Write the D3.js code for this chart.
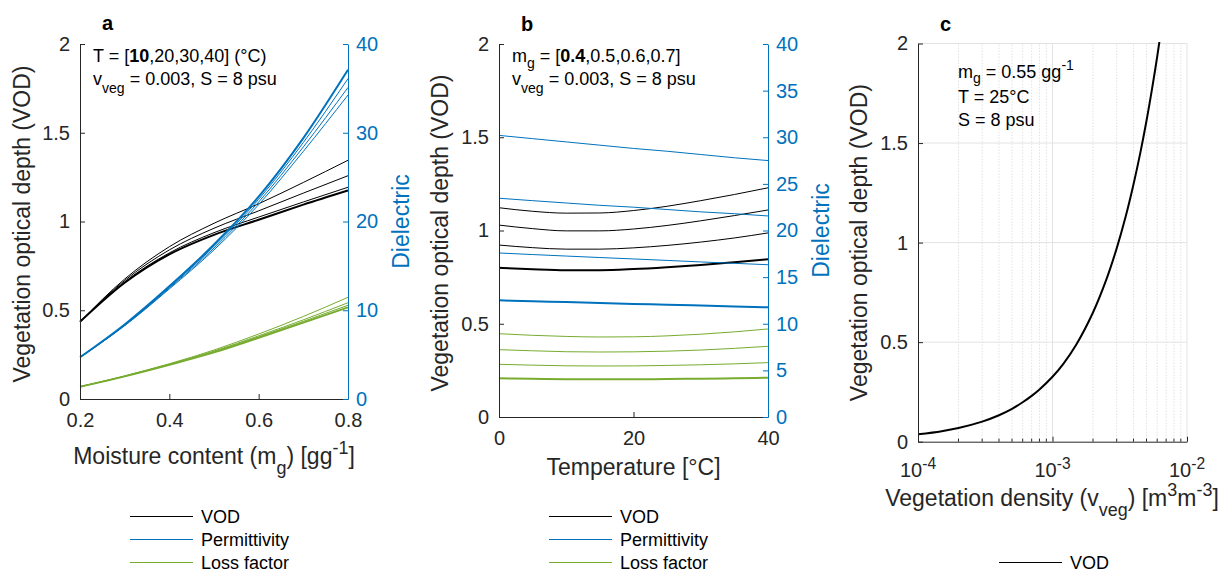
<!DOCTYPE html>
<html><head><meta charset="utf-8">
<script src="https://cdn.jsdelivr.net/npm/d3@7"></script>
<style>
body{margin:0;background:#fff;}
svg{display:block;font-family:"Liberation Sans",Arial,Helvetica,sans-serif;}
</style></head><body>
<svg id="chart" width="1225" height="572"></svg>
<script>
// ================= DATA =================
// Panel a: x = moisture content m_g, curves for T = 10,20,30,40 °C
const moistureA = [0.2, 0.3, 0.4, 0.5, 0.6, 0.7, 0.8];
const tempSeriesA = ["10", "20", "30", "40"];
const vodA_T10 = [0.435, 0.655, 0.815, 0.925, 1.010, 1.095, 1.175];
const vodA_T20 = [0.435, 0.660, 0.823, 0.937, 1.025, 1.110, 1.193];
const vodA_T30 = [0.435, 0.668, 0.840, 0.962, 1.060, 1.160, 1.258];
const vodA_T40 = [0.435, 0.676, 0.858, 0.990, 1.100, 1.220, 1.345];
const permA_T10 = [4.7, 8.40, 12.7, 17.4, 22.8, 29.4, 37.10];
const permA_T20 = [4.7, 8.35, 12.6, 17.2, 22.5, 28.9, 36.10];
const permA_T30 = [4.7, 8.30, 12.5, 17.0, 22.2, 28.4, 35.10];
const permA_T40 = [4.7, 8.25, 12.4, 16.8, 21.9, 27.9, 34.25];
const lossA_T10 = [1.39, 2.55, 3.85, 5.25, 6.90, 8.60, 10.33];
const lossA_T20 = [1.39, 2.56, 3.88, 5.32, 7.00, 8.75, 10.56];
const lossA_T30 = [1.39, 2.57, 3.91, 5.40, 7.12, 8.92, 10.85];
const lossA_T40 = [1.39, 2.60, 3.97, 5.52, 7.32, 9.30, 11.46];

// Panel b: x = temperature, curves for m_g = 0.4,0.5,0.6,0.7
const temperatureB = [0, 5, 10, 15, 20, 25, 30, 35, 40];
const moistSeriesB = ["0.4", "0.5", "0.6", "0.7"];
const vodB_m04 = [0.800, 0.792, 0.787, 0.787, 0.793, 0.803, 0.815, 0.830, 0.846];
const vodB_m05 = [0.922, 0.908, 0.900, 0.900, 0.907, 0.920, 0.938, 0.960, 0.987];
const vodB_m06 = [1.029, 1.010, 0.998, 0.998, 1.008, 1.027, 1.052, 1.080, 1.110];
const vodB_m07 = [1.122, 1.103, 1.093, 1.094, 1.107, 1.130, 1.160, 1.193, 1.229];
const permB_m04 = [12.51, 12.41, 12.32, 12.22, 12.13, 12.04, 11.95, 11.85, 11.76];
const permB_m05 = [17.59, 17.42, 17.26, 17.10, 16.95, 16.79, 16.63, 16.48, 16.33];
const permB_m06 = [23.46, 23.20, 22.95, 22.70, 22.50, 22.25, 22.00, 21.80, 21.56];
const permB_m07 = [30.20, 29.85, 29.50, 29.15, 28.80, 28.50, 28.15, 27.80, 27.50];
const lossB_m04 = [4.15, 4.09, 4.05, 4.04, 4.05, 4.07, 4.11, 4.15, 4.21];
const lossB_m05 = [5.65, 5.56, 5.49, 5.47, 5.48, 5.53, 5.60, 5.70, 5.83];
const lossB_m06 = [7.22, 7.10, 7.00, 6.97, 6.99, 7.06, 7.18, 7.36, 7.58];
const lossB_m07 = [8.93, 8.76, 8.64, 8.58, 8.60, 8.70, 8.88, 9.13, 9.44];

// Panel c: x = vegetation density (log), VOD
const vegDensityC = [1e-4, 1.5e-4, 2e-4, 3e-4, 4e-4, 5e-4, 6e-4, 7e-4, 8e-4, 1e-3, 1.2e-3, 1.5e-3, 2e-3, 2.5e-3, 3e-3, 3.5e-3, 4e-3, 4.5e-3, 5e-3, 5.5e-3, 6e-3, 6.5e-3];
const vodC = [0.037, 0.053, 0.069, 0.101, 0.133, 0.165, 0.198, 0.230, 0.262, 0.326, 0.390, 0.487, 0.649, 0.810, 0.971, 1.131, 1.292, 1.452, 1.612, 1.773, 1.933, 2.094];

// Ticks
const vodTicks = [0, 0.5, 1, 1.5, 2];
const dielTicksA = [0, 10, 20, 30, 40];
const dielTicksB = [0, 5, 10, 15, 20, 25, 30, 35, 40];
const moistTicksA = [0.2, 0.4, 0.6, 0.8];
const tempTicksB = [0, 20, 40];
const vegTicksC = [1e-4, 1e-3, 1e-2];
const vegTickExpC = ["-4", "-3", "-2"];
const legendLabels = ["VOD", "Permittivity", "Loss factor"];

// ================= STYLE =================
const C_VOD = "#000000", C_PERM = "#0072BD", C_LOSS = "#77AC30", C_AX = "#262626";
const TICK_FS = 20, LABEL_FS = 23, ANN_FS = 18, LEG_FS = 18;

const svg = d3.select("#chart");

// rich text helper (sub/sup/bold parts)
function rich(sel, parts, fs, subK) {
  const k = subK || 0.42;
  let shift = 0;
  parts.forEach(p => {
    const ts = sel.append("tspan").text(p.t);
    const target = p.sub ? fs * k : (p.sup ? -fs * 0.42 : 0);
    if (target !== shift) { ts.attr("dy", target - shift); shift = target; }
    if (p.sub || p.sup) ts.attr("font-size", fs * 0.78);
    if (p.bold) ts.attr("font-weight", "bold");
  });
  return sel;
}

function styleAxis(g, color, fs) {
  g.attr("font-family", null).attr("font-size", null);
  g.selectAll("path.domain").attr("stroke", color).attr("stroke-width", 1);
  g.selectAll(".tick line").attr("stroke", color).attr("stroke-width", 1);
  g.selectAll(".tick text").attr("fill", color).style("font-size", fs + "px");
}

function drawLines(g, xs, series, x, y, color, widths) {
  const gen = d3.line().x((d, i) => x(xs[i])).y(d => y(d)).curve(d3.curveMonotoneX);
  series.forEach((s, i) => {
    g.append("path").attr("d", gen(s)).attr("fill", "none")
      .attr("stroke", color).attr("stroke-width", widths[i]).attr("stroke-linejoin", "round");
  });
}

function legend(g, x, y, items) {
  items.forEach((it, i) => {
    const yy = y + i * 23;
    g.append("line").attr("x1", x).attr("x2", x + 63).attr("y1", yy).attr("y2", yy)
      .attr("stroke", it.color).attr("stroke-width", 1);
    g.append("text").attr("x", x + 71).attr("y", yy + 6.5).attr("fill", "#000")
      .style("font-size", LEG_FS + "px").text(it.label);
  });
}

function rotLabel(g, x, y, parts, color, fs) {
  const t = g.append("text").attr("transform", `translate(${x},${y}) rotate(-90)`)
    .attr("text-anchor", "middle").attr("fill", color).style("font-size", fs + "px");
  rich(t, parts, fs);
}

const thinBold = [2, 1, 1, 1];

// ================= PANEL A =================
(function () {
  const g = svg.append("g");
  const x = d3.scaleLinear().domain([0.2, 0.8]).range([80, 348]);
  const y = d3.scaleLinear().domain([0, 2]).range([399, 44]);
  const y2 = d3.scaleLinear().domain([0, 40]).range([399, 44]);

  drawLines(g, moistureA, [vodA_T10, vodA_T20, vodA_T30, vodA_T40], x, y, C_VOD, thinBold);
  drawLines(g, moistureA, [permA_T10, permA_T20, permA_T30, permA_T40], x, y2, C_PERM, thinBold);
  drawLines(g, moistureA, [lossA_T10, lossA_T20, lossA_T30, lossA_T40], x, y2, C_LOSS, thinBold);

  const gx = g.append("g").attr("transform", "translate(0,399)")
    .call(d3.axisBottom(x).tickValues(moistTicksA).tickFormat(d => String(d)).tickSize(-5).tickSizeOuter(0).tickPadding(14));
  styleAxis(gx, C_AX, TICK_FS);
  const gy = g.append("g").attr("transform", "translate(80,0)")
    .call(d3.axisLeft(y).tickValues(vodTicks).tickFormat(d => String(d)).tickSize(-5).tickSizeOuter(0).tickPadding(10));
  styleAxis(gy, C_AX, TICK_FS);
  const gy2 = g.append("g").attr("transform", "translate(348,0)")
    .call(d3.axisRight(y2).tickValues(dielTicksA).tickFormat(d => String(d)).tickSize(-5).tickSizeOuter(0).tickPadding(8));
  styleAxis(gy2, C_PERM, TICK_FS);

  g.append("text").attr("x", 102).attr("y", 30).style("font-size", "20px").attr("font-weight", "bold").text("a");

  rich(g.append("text").attr("x", 93).attr("y", 62).style("font-size", ANN_FS + "px").attr("fill", "#000"),
    [{t: "T = ["}, {t: tempSeriesA[0], bold: true}, {t: "," + tempSeriesA.slice(1).join(",") + "] (°C)"}], ANN_FS);
  rich(g.append("text").attr("x", 93).attr("y", 85).style("font-size", ANN_FS + "px").attr("fill", "#000"),
    [{t: "v"}, {t: "veg", sub: true}, {t: " = 0.003, S = 8 psu"}], ANN_FS);

  const tl = g.append("text").attr("x", 214).attr("y", 464).attr("text-anchor", "middle")
    .attr("fill", C_AX).style("font-size", LABEL_FS + "px");
  rich(tl, [{t: "Moisture content (m"}, {t: "g", sub: true}, {t: ") [gg"}, {t: "-1", sup: true}, {t: "]"}], LABEL_FS);
  rotLabel(g, 30, 224, [{t: "Vegetation optical depth (VOD)"}], C_AX, LABEL_FS);
  rotLabel(g, 409, 221.5, [{t: "Dielectric"}], C_PERM, LABEL_FS);

  legend(g, 130, 516.5, [{label: legendLabels[0], color: C_VOD}, {label: legendLabels[1], color: C_PERM}, {label: legendLabels[2], color: C_LOSS}]);
})();

// ================= PANEL B =================
(function () {
  const g = svg.append("g");
  const x = d3.scaleLinear().domain([0, 40]).range([499, 768]);
  const y = d3.scaleLinear().domain([0, 2]).range([417, 44]);
  const y2 = d3.scaleLinear().domain([0, 40]).range([417, 44]);

  drawLines(g, temperatureB, [vodB_m04, vodB_m05, vodB_m06, vodB_m07], x, y, C_VOD, thinBold);
  drawLines(g, temperatureB, [permB_m04, permB_m05, permB_m06, permB_m07], x, y2, C_PERM, thinBold);
  drawLines(g, temperatureB, [lossB_m04, lossB_m05, lossB_m06, lossB_m07], x, y2, C_LOSS, thinBold);

  const gx = g.append("g").attr("transform", "translate(0,417)")
    .call(d3.axisBottom(x).tickValues(tempTicksB).tickFormat(d => String(d)).tickSize(-5).tickSizeOuter(0).tickPadding(14));
  styleAxis(gx, C_AX, TICK_FS);
  const gy = g.append("g").attr("transform", "translate(499,0)")
    .call(d3.axisLeft(y).tickValues(vodTicks).tickFormat(d => String(d)).tickSize(-5).tickSizeOuter(0).tickPadding(10));
  styleAxis(gy, C_AX, TICK_FS);
  const gy2 = g.append("g").attr("transform", "translate(768,0)")
    .call(d3.axisRight(y2).tickValues(dielTicksB).tickFormat(d => String(d)).tickSize(-5).tickSizeOuter(0).tickPadding(8));
  styleAxis(gy2, C_PERM, TICK_FS);

  g.append("text").attr("x", 521).attr("y", 31).style("font-size", "20px").attr("font-weight", "bold").text("b");

  rich(g.append("text").attr("x", 512).attr("y", 62).style("font-size", ANN_FS + "px").attr("fill", "#000"),
    [{t: "m"}, {t: "g", sub: true}, {t: " = ["}, {t: moistSeriesB[0], bold: true}, {t: "," + moistSeriesB.slice(1).join(",") + "]"}], ANN_FS, 0.36);
  rich(g.append("text").attr("x", 512).attr("y", 85).style("font-size", ANN_FS + "px").attr("fill", "#000"),
    [{t: "v"}, {t: "veg", sub: true}, {t: " = 0.003, S = 8 psu"}], ANN_FS);

  g.append("text").attr("x", 633.5).attr("y", 475).attr("text-anchor", "middle")
    .attr("fill", C_AX).style("font-size", LABEL_FS + "px").text("Temperature [°C]");
  rotLabel(g, 448, 233, [{t: "Vegetation optical depth (VOD)"}], C_AX, LABEL_FS);
  rotLabel(g, 829, 230.5, [{t: "Dielectric"}], C_PERM, LABEL_FS);

  legend(g, 549, 516.5, [{label: legendLabels[0], color: C_VOD}, {label: legendLabels[1], color: C_PERM}, {label: legendLabels[2], color: C_LOSS}]);
})();

// ================= PANEL C =================
(function () {
  const g = svg.append("g");
  const x = d3.scaleLog().domain([1e-4, 1e-2]).range([918, 1187]);
  const y = d3.scaleLinear().domain([0, 2]).range([441.7, 43.5]);

  // minor dotted grid
  const minors = [];
  [1e-4, 1e-3].forEach(dec => { for (let k = 2; k <= 9; k++) minors.push(dec * k); });
  g.selectAll(".mg").data(minors).join("line")
    .attr("x1", d => x(d)).attr("x2", d => x(d)).attr("y1", y(0)).attr("y2", y(2))
    .attr("stroke", "#d4d4d4").attr("stroke-width", 1).attr("stroke-dasharray", "1,2");
  // major grid
  g.selectAll(".gy").data(vodTicks.slice(1)).join("line")
    .attr("x1", 918).attr("x2", 1187).attr("y1", d => y(d)).attr("y2", d => y(d))
    .attr("stroke", "#e3e3e3").attr("stroke-width", 1);
  g.selectAll(".gx").data(vegTicksC.slice(1)).join("line")
    .attr("x1", d => x(d)).attr("x2", d => x(d)).attr("y1", y(0)).attr("y2", y(2))
    .attr("stroke", "#e3e3e3").attr("stroke-width", 1);

  svg.append("defs").append("clipPath").attr("id", "clipC").append("rect")
    .attr("x", 918).attr("y", 42).attr("width", 270).attr("height", 402);
  const gen = d3.line().x((d, i) => x(vegDensityC[i])).y(d => y(d)).curve(d3.curveCatmullRom.alpha(0.5));
  g.append("path").attr("d", gen(vodC)).attr("fill", "none").attr("stroke", C_VOD)
    .attr("stroke-width", 2).attr("clip-path", "url(#clipC)");

  // axes
  const gy = g.append("g").attr("transform", "translate(918,0)")
    .call(d3.axisLeft(y).tickValues(vodTicks).tickFormat(d => String(d)).tickSize(-5).tickSizeOuter(0).tickPadding(10));
  styleAxis(gy, C_AX, TICK_FS);
  const gx = g.append("g").attr("transform", "translate(0,441.7)")
    .call(d3.axisBottom(x).tickValues(vegTicksC).tickFormat("").tickSize(-5).tickSizeOuter(0));
  styleAxis(gx, C_AX, TICK_FS);
  g.selectAll(".mt").data(minors).join("line")
    .attr("x1", d => x(d)).attr("x2", d => x(d)).attr("y1", 441.7).attr("y2", 438.7)
    .attr("stroke", C_AX).attr("stroke-width", 1);
  vegTicksC.forEach((v, i) => {
    const t = g.append("text").attr("x", x(v)).attr("y", 477).attr("text-anchor", "middle")
      .attr("fill", C_AX).style("font-size", TICK_FS + "px");
    rich(t, [{t: "10"}, {t: vegTickExpC[i], sup: true}], TICK_FS);
  });

  g.append("text").attr("x", 940).attr("y", 31).style("font-size", "20px").attr("font-weight", "bold").text("c");

  rich(g.append("text").attr("x", 958).attr("y", 78).style("font-size", ANN_FS + "px").attr("fill", "#000"),
    [{t: "m"}, {t: "g", sub: true}, {t: " = 0.55 gg"}, {t: "-1", sup: true}], ANN_FS, 0.3);
  g.append("text").attr("x", 958).attr("y", 103).style("font-size", ANN_FS + "px").attr("fill", "#000").text("T = 25°C");
  g.append("text").attr("x", 958).attr("y", 126).style("font-size", ANN_FS + "px").attr("fill", "#000").text("S = 8 psu");

  const tl = g.append("text").attr("x", 1052).attr("y", 506).attr("text-anchor", "middle")
    .attr("fill", C_AX).style("font-size", LABEL_FS + "px");
  rich(tl, [{t: "Vegetation density (v"}, {t: "veg", sub: true}, {t: ") [m"}, {t: "3", sup: true}, {t: "m"}, {t: "-3", sup: true}, {t: "]"}], LABEL_FS);
  rotLabel(g, 867, 242.6, [{t: "Vegetation optical depth (VOD)"}], C_AX, LABEL_FS);

  legend(g, 999, 562.5, [{label: legendLabels[0], color: C_VOD}]);
})();
</script>
</body></html>
